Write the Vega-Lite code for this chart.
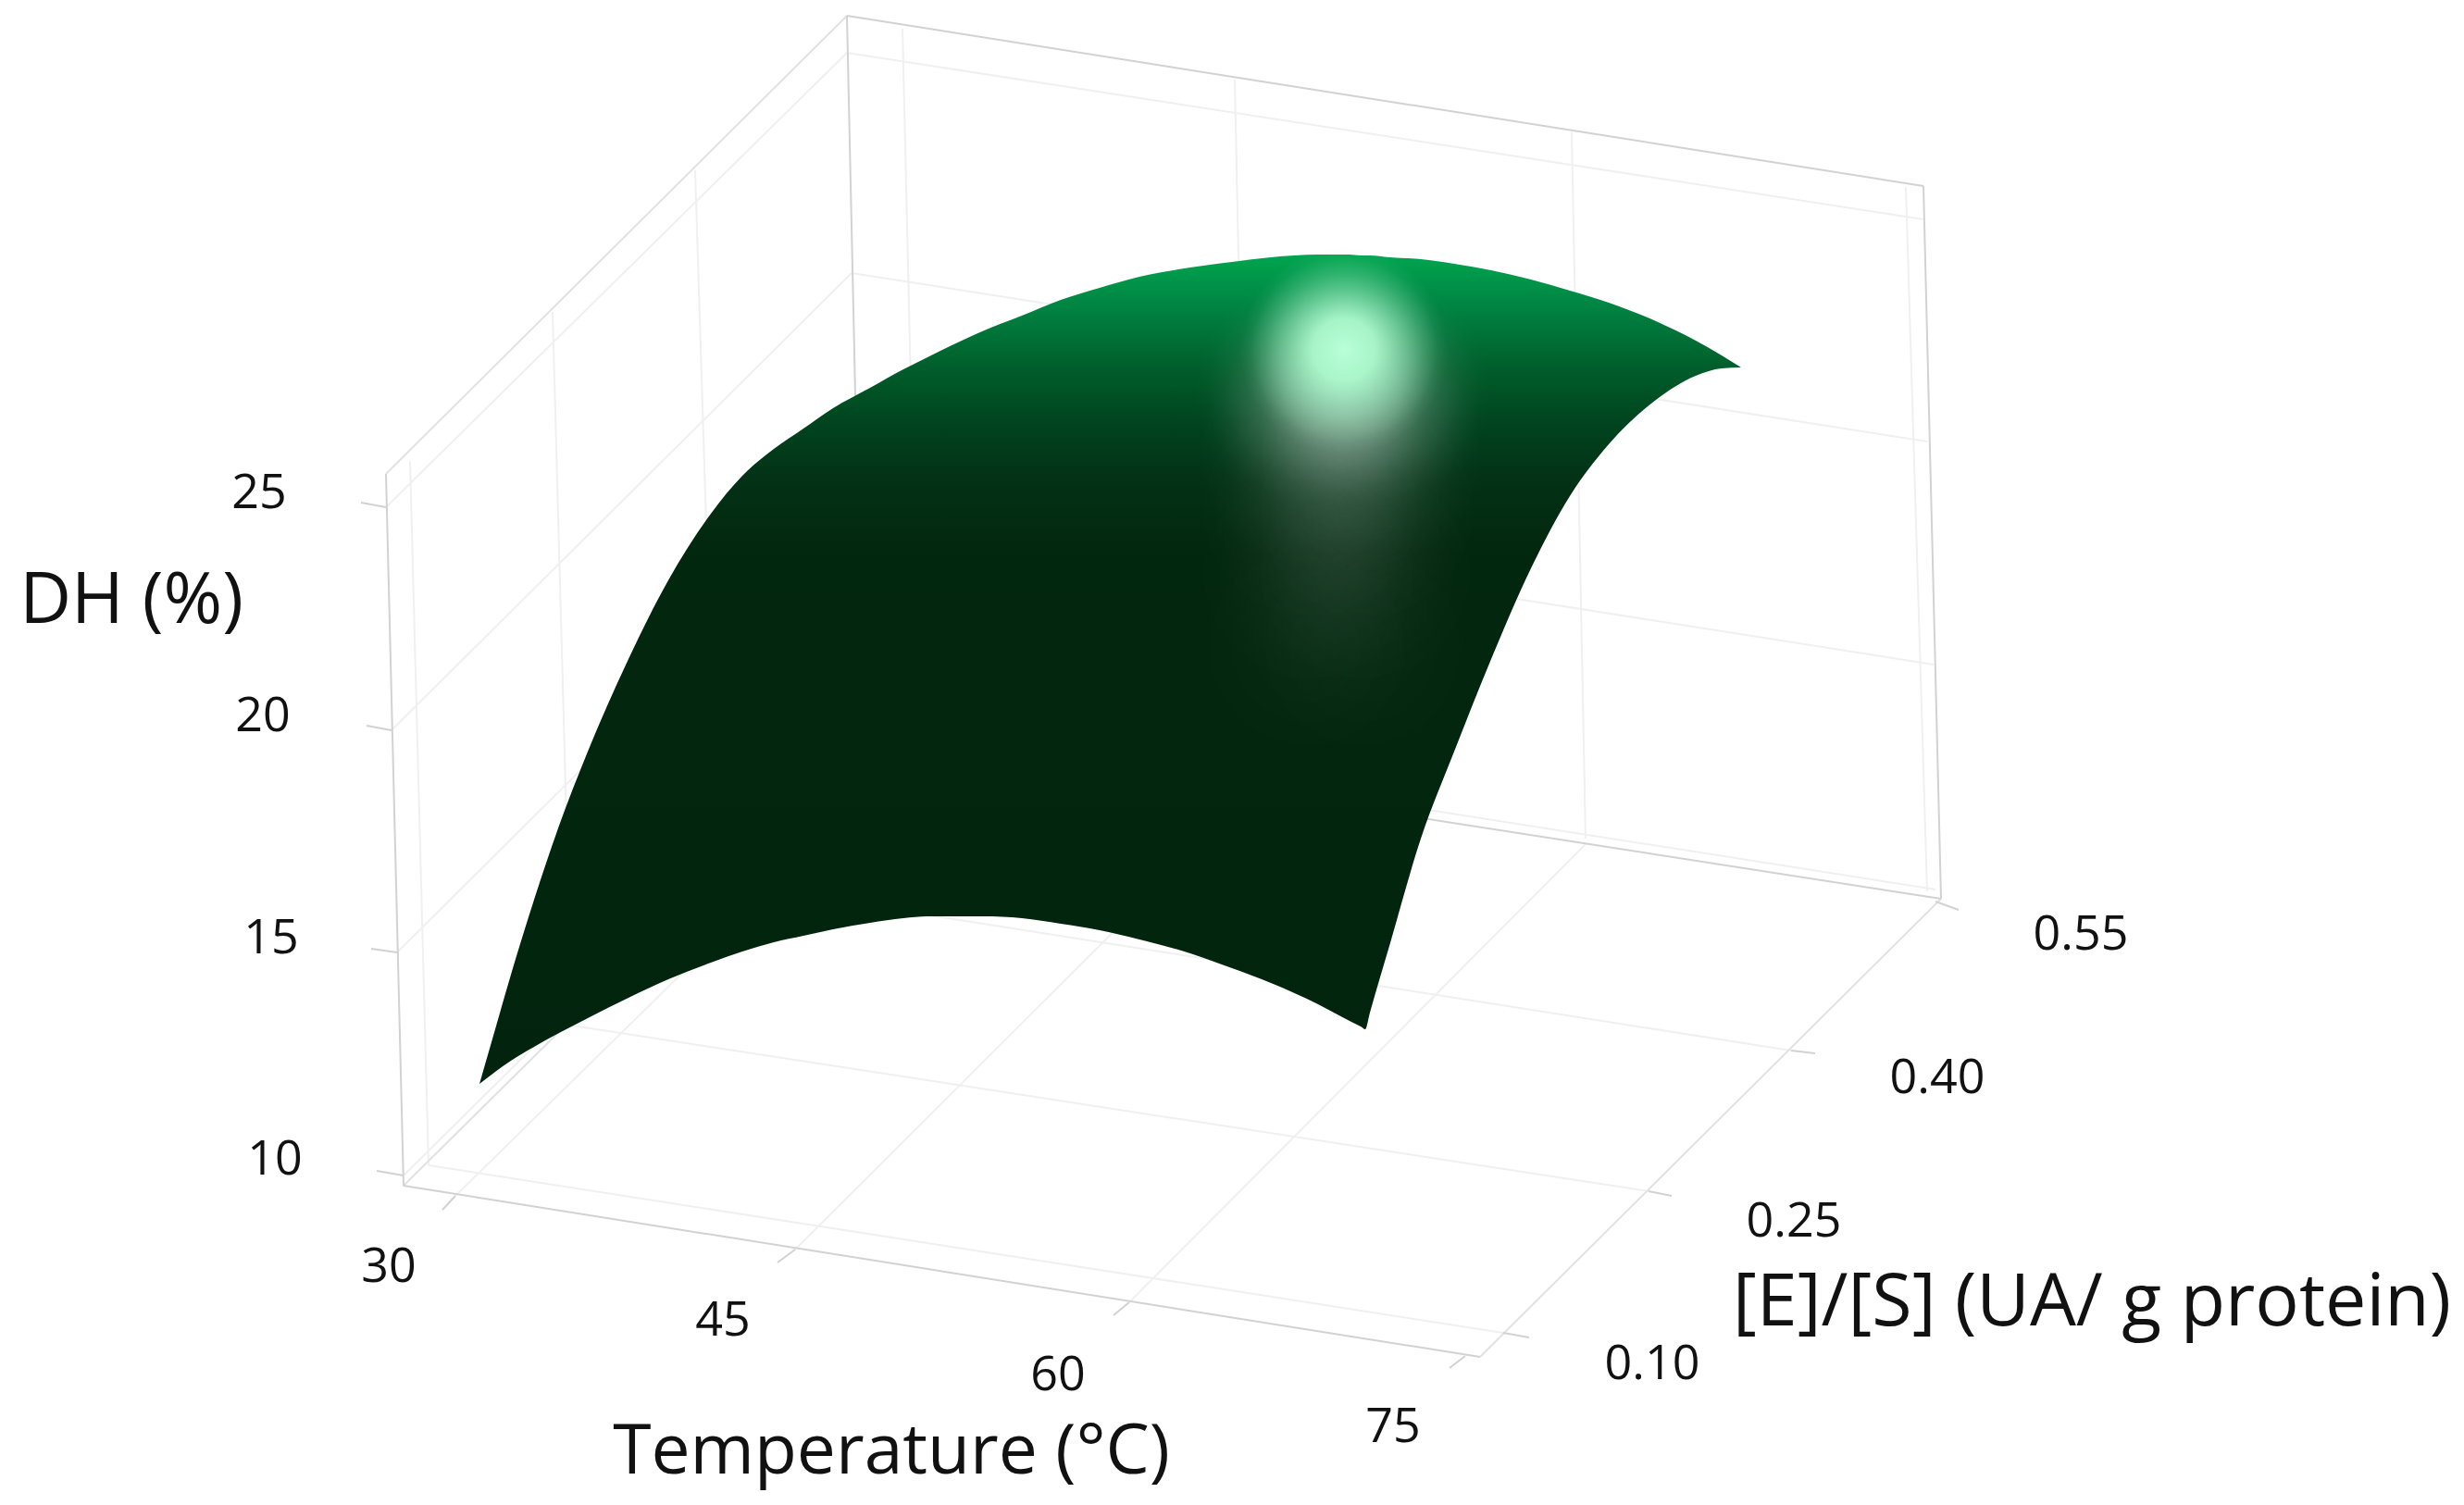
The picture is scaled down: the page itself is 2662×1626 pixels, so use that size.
{"$schema":"https://vega.github.io/schema/vega-lite/v6.json","width":2662,"height":1626,"padding":0,"autosize":{"type":"none"},"background":"white","config":{"view":{"stroke":null}},
"datasets":{
"grid":[
{"k":"light","u":417,"v":548,"u2":915,"v2":57},{"k":"light","u":423,"v":789,"u2":920,"v2":295},{"k":"light","u":429,"v":1029,"u2":926,"v2":535},{"k":"light","u":436,"v":1270,"u2":932,"v2":779},
{"k":"light","u":915,"v":57,"u2":2078,"v2":237},{"k":"light","u":920,"v":295,"u2":2082,"v2":477},{"k":"light","u":926,"v":535,"u2":2089,"v2":718},{"k":"light","u":932,"v":779,"u2":2091,"v2":961},
{"k":"light","u":975,"v":31,"u2":993,"v2":800},{"k":"light","u":1334,"v":86,"u2":1350,"v2":855},{"k":"light","u":1698,"v":143,"u2":1713,"v2":906},{"k":"light","u":2059,"v":202,"u2":2082,"v2":963},
{"k":"light","u":443,"v":498,"u2":463,"v2":1259},{"k":"light","u":597,"v":337,"u2":618,"v2":1108},{"k":"light","u":751,"v":184,"u2":775,"v2":953},
{"k":"light","u":463,"v":1259,"u2":1624,"v2":1440},{"k":"light","u":618,"v":1108,"u2":1781,"v2":1287},{"k":"light","u":775,"v":953,"u2":1935,"v2":1135},
{"k":"light","u":492,"v":1292,"u2":993,"v2":800},{"k":"light","u":859,"v":1350,"u2":1350,"v2":860},{"k":"light","u":1220,"v":1407,"u2":1713,"v2":912},
{"k":"mid","u":436,"v":1281,"u2":932,"v2":790},{"k":"mid","u":1599,"v":1466,"u2":2097,"v2":971},
{"k":"frame","u":915,"v":17,"u2":2078,"v2":201},{"k":"mid","u":417,"v":512,"u2":915,"v2":17},{"k":"frame","u":417,"v":512,"u2":436,"v2":1281},{"k":"frame","u":915,"v":17,"u2":932,"v2":790},{"k":"frame","u":2078,"v":201,"u2":2097,"v2":971},
{"k":"frame","u":436,"v":1281,"u2":1599,"v2":1466},{"k":"frame","u":932,"v":790,"u2":2097,"v2":971},
{"k":"frame","u":390,"v":543,"u2":417,"v2":548},{"k":"frame","u":396,"v":784,"u2":423,"v2":789},{"k":"frame","u":401,"v":1025,"u2":429,"v2":1029},{"k":"frame","u":407,"v":1265,"u2":436,"v2":1270},
{"k":"frame","u":492,"v":1292,"u2":478,"v2":1307},{"k":"frame","u":859,"v":1350,"u2":840,"v2":1364},{"k":"frame","u":1220,"v":1407,"u2":1203,"v2":1421},{"k":"frame","u":1583,"v":1465,"u2":1566,"v2":1478},
{"k":"frame","u":1624,"v":1440,"u2":1652,"v2":1445},{"k":"frame","u":1781,"v":1287,"u2":1806,"v2":1292},{"k":"frame","u":1935,"v":1135,"u2":1961,"v2":1138},{"k":"frame","u":2091,"v":974,"u2":2116,"v2":983}
],
"surface":[
{"u":518,"top":1171,"bottom":1171},{"u":535,"top":1112,"bottom":1158},{"u":552,"top":1053,"bottom":1146},{"u":577,"top":972,"bottom":1131},{"u":604,"top":892,"bottom":1116},{"u":635,"top":812,"bottom":1100},{"u":679,"top":712,"bottom":1078},{"u":722,"top":627,"bottom":1058},{"u":768,"top":555,"bottom":1040},{"u":802,"top":514,"bottom":1028},{"u":836,"top":485,"bottom":1018},{"u":868,"top":463,"bottom":1011},{"u":900,"top":441,"bottom":1004},{"u":940,"top":419,"bottom":997},{"u":976,"top":399,"bottom":992},{"u":1002,"top":386,"bottom":990},{"u":1061,"top":358,"bottom":990},{"u":1104,"top":341,"bottom":992},{"u":1146,"top":324,"bottom":998},{"u":1188,"top":311,"bottom":1005},{"u":1231,"top":299,"bottom":1015},{"u":1273,"top":291,"bottom":1026},{"u":1331,"top":283,"bottom":1046},{"u":1373,"top":278,"bottom":1062},{"u":1424,"top":275,"bottom":1085},{"u":1458,"top":275,"bottom":1103},{"u":1470,"top":276,"bottom":1109},{"u":1475,"top":276,"bottom":1112},{"u":1480,"top":276,"bottom":1094},{"u":1501,"top":278,"bottom":1022},{"u":1535,"top":280,"bottom":906},{"u":1571,"top":285,"bottom":812},{"u":1611,"top":292,"bottom":712},{"u":1654,"top":302,"bottom":614},{"u":1696,"top":314,"bottom":536},{"u":1738,"top":327,"bottom":480},{"u":1789,"top":347,"bottom":432},{"u":1832,"top":368,"bottom":406},{"u":1860,"top":384,"bottom":398},{"u":1881,"top":397,"bottom":397}
],
"ticks":[
{"t":"25","u":280,"v":533},{"t":"20","u":284,"v":774},{"t":"15","u":293,"v":1014},{"t":"10","u":297,"v":1253},
{"t":"30","u":420,"v":1369},{"t":"45","u":781,"v":1427},{"t":"60","u":1143,"v":1486},{"t":"75","u":1505,"v":1542},
{"t":"0.10","u":1785,"v":1474},{"t":"0.25","u":1938,"v":1320},{"t":"0.40","u":2093,"v":1165},{"t":"0.55","u":2248,"v":1010}
],
"glow":[{"u":1420,"v":425,"a":0.3},{"u":1482,"v":425,"a":0.3},{"u":1418,"v":490,"a":0.08},{"u":1480,"v":490,"a":0.08},{"u":1416,"v":550,"a":0.05},{"u":1476,"v":550,"a":0.05},{"u":1414,"v":620,"a":0.035},{"u":1474,"v":620,"a":0.035},{"u":1412,"v":700,"a":0.02},{"u":1472,"v":700,"a":0.02}]
},
"encoding":{"x":{"field":"u","type":"quantitative","axis":null,"scale":{"domain":[0,2662],"nice":false,"zero":false}},"y":{"field":"v","type":"quantitative","axis":null,"scale":{"domain":[1626,0],"nice":false,"zero":false}}},
"layer":[
{"data":{"name":"grid"},"mark":{"type":"rule"},"encoding":{"x2":{"field":"u2"},"y2":{"field":"v2"},"color":{"field":"k","type":"nominal","legend":null,"scale":{"domain":["light","mid","frame"],"range":["#f0f0f0","#e2e2e2","#d2d2d2"]}},"strokeWidth":{"field":"k","type":"nominal","legend":null,"scale":{"domain":["light","mid","frame"],"range":[2,2,3]}}}},
{"data":{"name":"surface"},"mark":{"type":"area","interpolate":"monotone","fill":{"gradient":"linear","x1":0,"y1":0,"x2":0,"y2":1,"stops":[{"offset":0,"color":"#00a550"},{"offset":0.07,"color":"#008040"},{"offset":0.14,"color":"#005c2a"},{"offset":0.2,"color":"#00451f"},{"offset":0.27,"color":"#033216"},{"offset":0.36,"color":"#02270f"},{"offset":1,"color":"#02240e"}]}},"encoding":{"y":{"field":"top","type":"quantitative"},"y2":{"field":"bottom"}}},
{"data":{"name":"glow"},"mark":{"type":"point","filled":true,"strokeWidth":0,"shape":"circle","size":67600,"fill":{"gradient":"radial","x1":0.5,"y1":0.5,"r1":0,"x2":0.5,"y2":0.5,"r2":0.5,"stops":[{"offset":0,"color":"rgba(255,255,255,1)"},{"offset":0.25,"color":"rgba(255,255,255,0.85)"},{"offset":0.5,"color":"rgba(255,255,255,0.5)"},{"offset":0.75,"color":"rgba(255,255,255,0.16)"},{"offset":0.9,"color":"rgba(255,255,255,0.03)"},{"offset":1,"color":"rgba(255,255,255,0)"}]}},"encoding":{"opacity":{"field":"a","type":"quantitative","scale":null,"legend":null}}},
{"data":{"values":[{"u":1452,"v":378}]},"mark":{"type":"point","filled":true,"opacity":1,"strokeWidth":0,"shape":"circle","size":50176,"fill":{"gradient":"radial","x1":0.5,"y1":0.5,"r1":0,"x2":0.5,"y2":0.5,"r2":0.5,"stops":[{"offset":0,"color":"rgba(184,255,216,1)"},{"offset":0.3,"color":"rgba(176,252,208,0.92)"},{"offset":0.55,"color":"rgba(170,250,205,0.55)"},{"offset":0.75,"color":"rgba(170,250,205,0.25)"},{"offset":0.9,"color":"rgba(170,250,205,0.06)"},{"offset":1,"color":"rgba(170,250,205,0)"}]}}},
{"data":{"name":"ticks"},"mark":{"type":"text","font":"Open Sans","fontSize":52,"color":"#111111","align":"center","baseline":"middle"},"encoding":{"text":{"field":"t"}}},
{"data":{"values":[{"t":"DH (%)","u":142,"v":650}]},"mark":{"type":"text","font":"Open Sans","fontSize":77,"color":"#111111","align":"center","baseline":"middle"},"encoding":{"text":{"field":"t"}}},
{"data":{"values":[{"t":"Temperature (°C)","u":963,"v":1569}]},"mark":{"type":"text","font":"Open Sans","fontSize":75,"color":"#111111","align":"center","baseline":"middle"},"encoding":{"text":{"field":"t"}}},
{"data":{"values":[{"t":"[E]/[S] (UA/ g protein)","u":2260,"v":1408}]},"mark":{"type":"text","font":"Open Sans","fontSize":79,"color":"#111111","align":"center","baseline":"middle"},"encoding":{"text":{"field":"t"}}}
]}
